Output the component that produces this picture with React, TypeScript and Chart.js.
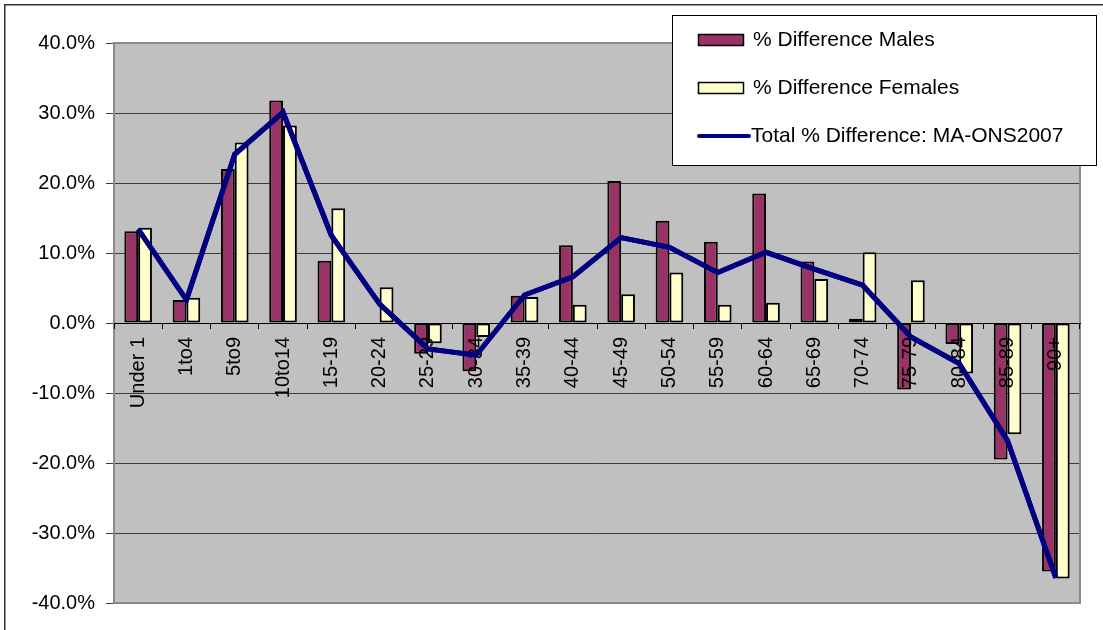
import React, { useEffect, useRef } from "react";
import { Chart, registerables } from "chart.js";

Chart.register(...registerables);

const categories = ["Under 1", "1to4", "5to9", "10to14", "15-19", "20-24", "25-29", "30-34", "35-39", "40-44", "45-49", "50-54", "55-59", "60-64", "65-69", "70-74", "75-79", "80-84", "85-89", "90+"];
const malesDiff = [13.1, 3.3, 22.0, 31.8, 8.9, 0.0, -4.4, -6.9, 3.9, 11.1, 20.3, 14.6, 11.6, 18.5, 8.8, 0.6, -9.5, -3.0, -19.5, -35.5];
const femalesDiff = [13.6, 3.6, 25.8, 28.2, 16.4, 5.1, -2.9, -2.0, 3.7, 2.6, 4.1, 7.2, 2.6, 2.9, 6.3, 10.1, 6.1, -7.2, -15.9, -36.5];
const totalDiff = [13.4, 3.3, 24.1, 30.1, 12.5, 2.7, -3.7, -4.6, 4.0, 6.6, 12.2, 10.8, 7.2, 10.1, 7.7, 5.4, -2.0, -5.8, -16.8, -36.4];
const yTicks = [-40, -30, -20, -10, 0, 10, 20, 30, 40];

const FONT = "'Liberation Sans', Arial, sans-serif";

const chartBackground = {
  id: "chartBackground",
  beforeDraw(chart: any) {
    const { ctx, chartArea } = chart;
    ctx.save();
    ctx.fillStyle = "#ffffff";
    ctx.fillRect(0, 0, chart.width, chart.height);
    ctx.fillStyle = "#c0c0c0";
    ctx.fillRect(chartArea.left, chartArea.top, chartArea.right - chartArea.left, chartArea.bottom - chartArea.top);
    ctx.restore();
  },
  beforeDatasetsDraw(chart: any) {
    const { ctx, chartArea } = chart;
    ctx.save();
    ctx.strokeStyle = "#8a8a8a";
    ctx.lineWidth = 2;
    ctx.strokeRect(chartArea.left, chartArea.top, chartArea.right - chartArea.left, chartArea.bottom - chartArea.top);
    ctx.restore();
  },
  afterDraw(chart: any) {
    const { ctx, chartArea } = chart;
    // redraw the total line above the axis labels (as in the original)
    chart.data.datasets.forEach((ds: any, i: number) => {
      if (ds.type === "line") {
        ctx.save();
        ctx.beginPath();
        ctx.rect(chartArea.left, chartArea.top, chartArea.right - chartArea.left, chartArea.bottom - chartArea.top);
        ctx.clip();
        chart.getDatasetMeta(i).controller.draw();
        ctx.restore();
      }
    });
    ctx.save();
    // outer frame
    ctx.strokeStyle = "#333333";
    ctx.lineWidth = 1.5;
    ctx.strokeRect(4.75, 4.75, 1200, 800);
    // legend box
    const lx = 672, ly = 15, lw = 424, lh = 150;
    ctx.fillStyle = "#ffffff";
    ctx.fillRect(lx, ly, lw, lh);
    ctx.strokeStyle = "#000000";
    ctx.lineWidth = 1;
    ctx.strokeRect(lx + 0.5, ly + 0.5, lw, lh);
    const rows = [40, 88, 136];
    ctx.font = `21px ${FONT}`;
    ctx.textBaseline = "middle";
    ctx.textAlign = "left";
    chart.data.datasets.forEach((ds: any, i: number) => {
      const y = rows[i];
      if (ds.type === "line") {
        ctx.strokeStyle = ds.borderColor;
        ctx.lineWidth = 4;
        ctx.lineCap = "round";
        ctx.beginPath();
        ctx.moveTo(699, y);
        ctx.lineTo(749, y);
        ctx.stroke();
        ctx.fillStyle = "#000000";
        ctx.fillText(ds.label, 751, y);
      } else {
        ctx.fillStyle = ds.backgroundColor;
        ctx.fillRect(698, y - 5, 45, 11);
        ctx.strokeStyle = "#000000";
        ctx.lineWidth = 1.5;
        ctx.strokeRect(698.5, y - 5.5, 45, 11);
        ctx.fillStyle = "#000000";
        ctx.fillText(ds.label, 753, y);
      }
    });
    ctx.restore();
  },
};

export default function App() {
  const ref = useRef<HTMLCanvasElement | null>(null);

  useEffect(() => {
    if (!ref.current) return;
    const chart = new Chart(ref.current, {
      type: "bar",
      data: {
        labels: categories,
        datasets: [
          {
            type: "bar",
            label: "% Difference Males",
            data: malesDiff,
            backgroundColor: "#993366",
            borderColor: "#000000",
            borderWidth: 2,
            borderSkipped: false,
            order: 1,
            categoryPercentage: 2 / 3.5,
            barPercentage: 1,
          },
          {
            type: "bar",
            label: "% Difference Females",
            data: femalesDiff,
            backgroundColor: "#ffffcc",
            borderColor: "#000000",
            borderWidth: 2,
            borderSkipped: false,
            order: 1,
            categoryPercentage: 2 / 3.5,
            barPercentage: 1,
          },
          {
            type: "line",
            label: "Total % Difference: MA-ONS2007",
            data: totalDiff,
            borderColor: "#000080",
            backgroundColor: "#000080",
            borderWidth: 5,
            pointRadius: 0,
            tension: 0,
            order: 0,
          },
        ] as any,
      },
      plugins: [chartBackground],
      options: {
        animation: false,
        responsive: false,
        layout: { padding: { left: 0, top: 43, right: 23, bottom: 27 } },
        plugins: {
          legend: { display: false },
          tooltip: { enabled: false },
        },
        scales: {
          x: {
            position: { y: 0 } as any,
            afterFit: (scale: any) => {
              scale.height = 0;
            },
            grid: {
              drawOnChartArea: false,
              drawTicks: true,
              tickLength: 5,
              color: "#000000",
              offset: true,
              z: 1,
            },
            border: { display: true, color: "#000000", width: 1, z: 1 },
            ticks: {
              autoSkip: false,
              maxRotation: 90,
              minRotation: 90,
              padding: 9,
              color: "#000000",
              font: { family: FONT, size: 20 },
              z: 1,
            },
          },
          y: {
            min: -40,
            max: 40,
            afterFit: (scale: any) => {
              scale.width = 114;
            },
            afterBuildTicks: (scale: any) => {
              scale.ticks = yTicks.map((v) => ({ value: v }));
            },
            grid: {
              color: "#3c3c3c",
              lineWidth: 1,
              drawTicks: true,
              tickLength: 8,
            },
            border: { display: true, color: "#555555", width: 2 },
            ticks: {
              stepSize: 10,
              padding: 11,
              color: "#000000",
              font: { family: FONT, size: 20 },
              callback: (v: any) => `${Number(v).toFixed(1)}%`,
            },
          },
        },
      },
    });
    return () => chart.destroy();
  }, []);

  return (
    <div style={{ position: "fixed", left: 0, top: 0, width: 1103, height: 630, background: "#fff" }}>
      <canvas ref={ref} width={1103} height={630} style={{ width: 1103, height: 630, display: "block" }} />
    </div>
  );
}
